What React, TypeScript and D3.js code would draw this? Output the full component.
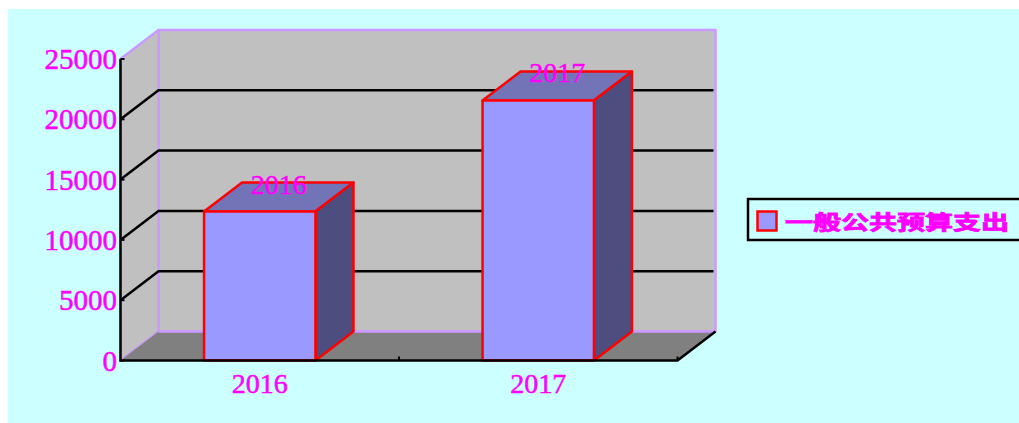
import { useEffect, useRef } from 'react';
import * as d3 from 'd3';

const years = ['2016', '2017'];
const spending = [12350, 21560];
const yTicks = [0, 5000, 10000, 15000, 20000, 25000];
const legendLabel = '一般公共预算支出';

const App = () => {
    const chartRef = useRef<SVGSVGElement>(null);

    useEffect(() => {
        if (!chartRef.current) return;

        const svg = d3.select(chartRef.current);
        svg.selectAll('*').remove();

        const digitFont = '"Liberation Serif", serif';
        const magenta = '#FF00FF';
        const wallEdge = '#CC99FF';

        // Plot frame and 3D depth offset
        const left = 120.5;
        const right = 677.5;
        const bottom = 360.5;
        const top = 59;
        const dx = 38;
        const dy = -29;

        const xScale = d3.scaleBand().domain(years).range([left, right]).paddingInner(0.6).paddingOuter(0.3);
        const yScale = d3.scaleLinear().domain([0, 25000]).range([bottom, top]);

        const poly = (pts: [number, number][], fill: string, stroke: string, width: number) =>
            svg.append('polygon')
                .attr('points', pts.map(p => p.join(',')).join(' '))
                .attr('fill', fill)
                .attr('stroke', stroke)
                .attr('stroke-width', width)
                .attr('stroke-linejoin', 'round');

        // Page background
        svg.append('rect')
            .attr('x', 8)
            .attr('y', 9)
            .attr('width', 1011)
            .attr('height', 414)
            .attr('fill', '#CCFFFF');

        // Walls and floor
        poly([[left + dx, top + dy], [right + dx, top + dy], [right + dx, bottom + dy], [left + dx, bottom + dy]], '#C0C0C0', wallEdge, 2.5);
        poly([[left, top], [left + dx, top + dy], [left + dx, bottom + dy], [left, bottom]], '#C0C0C0', wallEdge, 2.5);
        poly([[left, bottom], [left + dx, bottom + dy], [right + dx, bottom + dy], [right, bottom]], '#808080', 'none', 0);
        svg.append('line')
            .attr('x1', left + dx)
            .attr('x2', right + dx)
            .attr('y1', bottom + dy)
            .attr('y2', bottom + dy)
            .attr('stroke', wallEdge)
            .attr('stroke-width', 2.5);

        // Gridlines
        yTicks.slice(1, -1).forEach(t => {
            svg.append('path')
                .attr('d', `M${left},${yScale(t)}L${left + dx},${yScale(t) + dy}H${right + dx - 2}`)
                .attr('fill', 'none')
                .attr('stroke', '#000')
                .attr('stroke-width', 2.5);
        });

        // Bars
        years.forEach((year, i) => {
            const x0 = xScale(year)!;
            const x1 = x0 + xScale.bandwidth();
            const yTop = yScale(spending[i]);
            poly([[x0, yTop], [x0 + dx, yTop + dy], [x1 + dx, yTop + dy], [x1, yTop]], '#7373B8', '#FF0000', 2.5);
            poly([[x1, yTop], [x1 + dx, yTop + dy], [x1 + dx, bottom + dy], [x1, bottom]], '#4D4D80', '#FF0000', 2.5);
            poly([[x0, yTop], [x1, yTop], [x1, bottom], [x0, bottom]], '#9999FF', '#FF0000', 2.5);
        });

        // Axes
        svg.append('path')
            .attr('d', `M${left},${top}V${bottom}H${right}L${right + dx},${bottom + dy}`)
            .attr('fill', 'none')
            .attr('stroke', '#000')
            .attr('stroke-width', 2.5);
        yTicks.forEach(t => {
            svg.append('line')
                .attr('x1', left)
                .attr('x2', left + 4)
                .attr('y1', yScale(t))
                .attr('y2', yScale(t))
                .attr('stroke', '#000')
                .attr('stroke-width', 2);
        });
        const midTick = (xScale(years[0])! + xScale(years[1])! + xScale.bandwidth()) / 2;
        [midTick, right].forEach(x => {
            svg.append('line')
                .attr('x1', x)
                .attr('x2', x)
                .attr('y1', bottom)
                .attr('y2', bottom - 4)
                .attr('stroke', '#000')
                .attr('stroke-width', 2);
        });

        // Tick labels
        yTicks.forEach(t => {
            svg.append('text')
                .attr('x', 117)
                .attr('y', yScale(t) + 10)
                .attr('text-anchor', 'end')
                .attr('font-family', digitFont)
                .attr('font-size', 29)
                .attr('fill', magenta)
                .attr('stroke', magenta)
                .attr('stroke-width', 0.5)
                .text(t);
        });
        years.forEach(year => {
            svg.append('text')
                .attr('x', xScale(year)! + xScale.bandwidth() / 2)
                .attr('y', bottom + 32)
                .attr('text-anchor', 'middle')
                .attr('font-family', digitFont)
                .attr('font-size', 28)
                .attr('fill', magenta)
                .attr('stroke', magenta)
                .attr('stroke-width', 0.5)
                .text(year);
        });

        // Data labels
        years.forEach((year, i) => {
            svg.append('text')
                .attr('x', xScale(year)! + xScale.bandwidth() / 2 + dx / 2)
                .attr('y', yScale(spending[i]) - 18)
                .attr('text-anchor', 'middle')
                .attr('font-family', digitFont)
                .attr('font-size', 28)
                .attr('fill', magenta)
                .attr('stroke', magenta)
                .attr('stroke-width', 0.5)
                .text(year);
        });

        // Legend
        svg.append('rect')
            .attr('x', 748)
            .attr('y', 199)
            .attr('width', 275)
            .attr('height', 41)
            .attr('fill', 'none')
            .attr('stroke', '#000')
            .attr('stroke-width', 2.5);
        svg.append('rect')
            .attr('x', 757.5)
            .attr('y', 211.5)
            .attr('width', 19)
            .attr('height', 19)
            .attr('fill', '#9999FF')
            .attr('stroke', '#FF0000')
            .attr('stroke-width', 2.5);
        svg.append('text')
            .attr('x', 785)
            .attr('y', 230)
            .attr('textLength', 224)
            .attr('lengthAdjust', 'spacingAndGlyphs')
            .attr('font-family', '"Noto Sans CJK SC", sans-serif')
            .attr('font-weight', 700)
            .attr('font-size', 20)
            .attr('fill', magenta)
            .attr('stroke', magenta)
            .attr('stroke-width', 0.8)
            .text(legendLabel);
    }, []);

    return (
        <svg
            ref={chartRef}
            width={1019}
            height={423}
            style={{ position: 'absolute', left: 0, top: 0, background: '#fff' }}
        />
    );
};

export default App;
